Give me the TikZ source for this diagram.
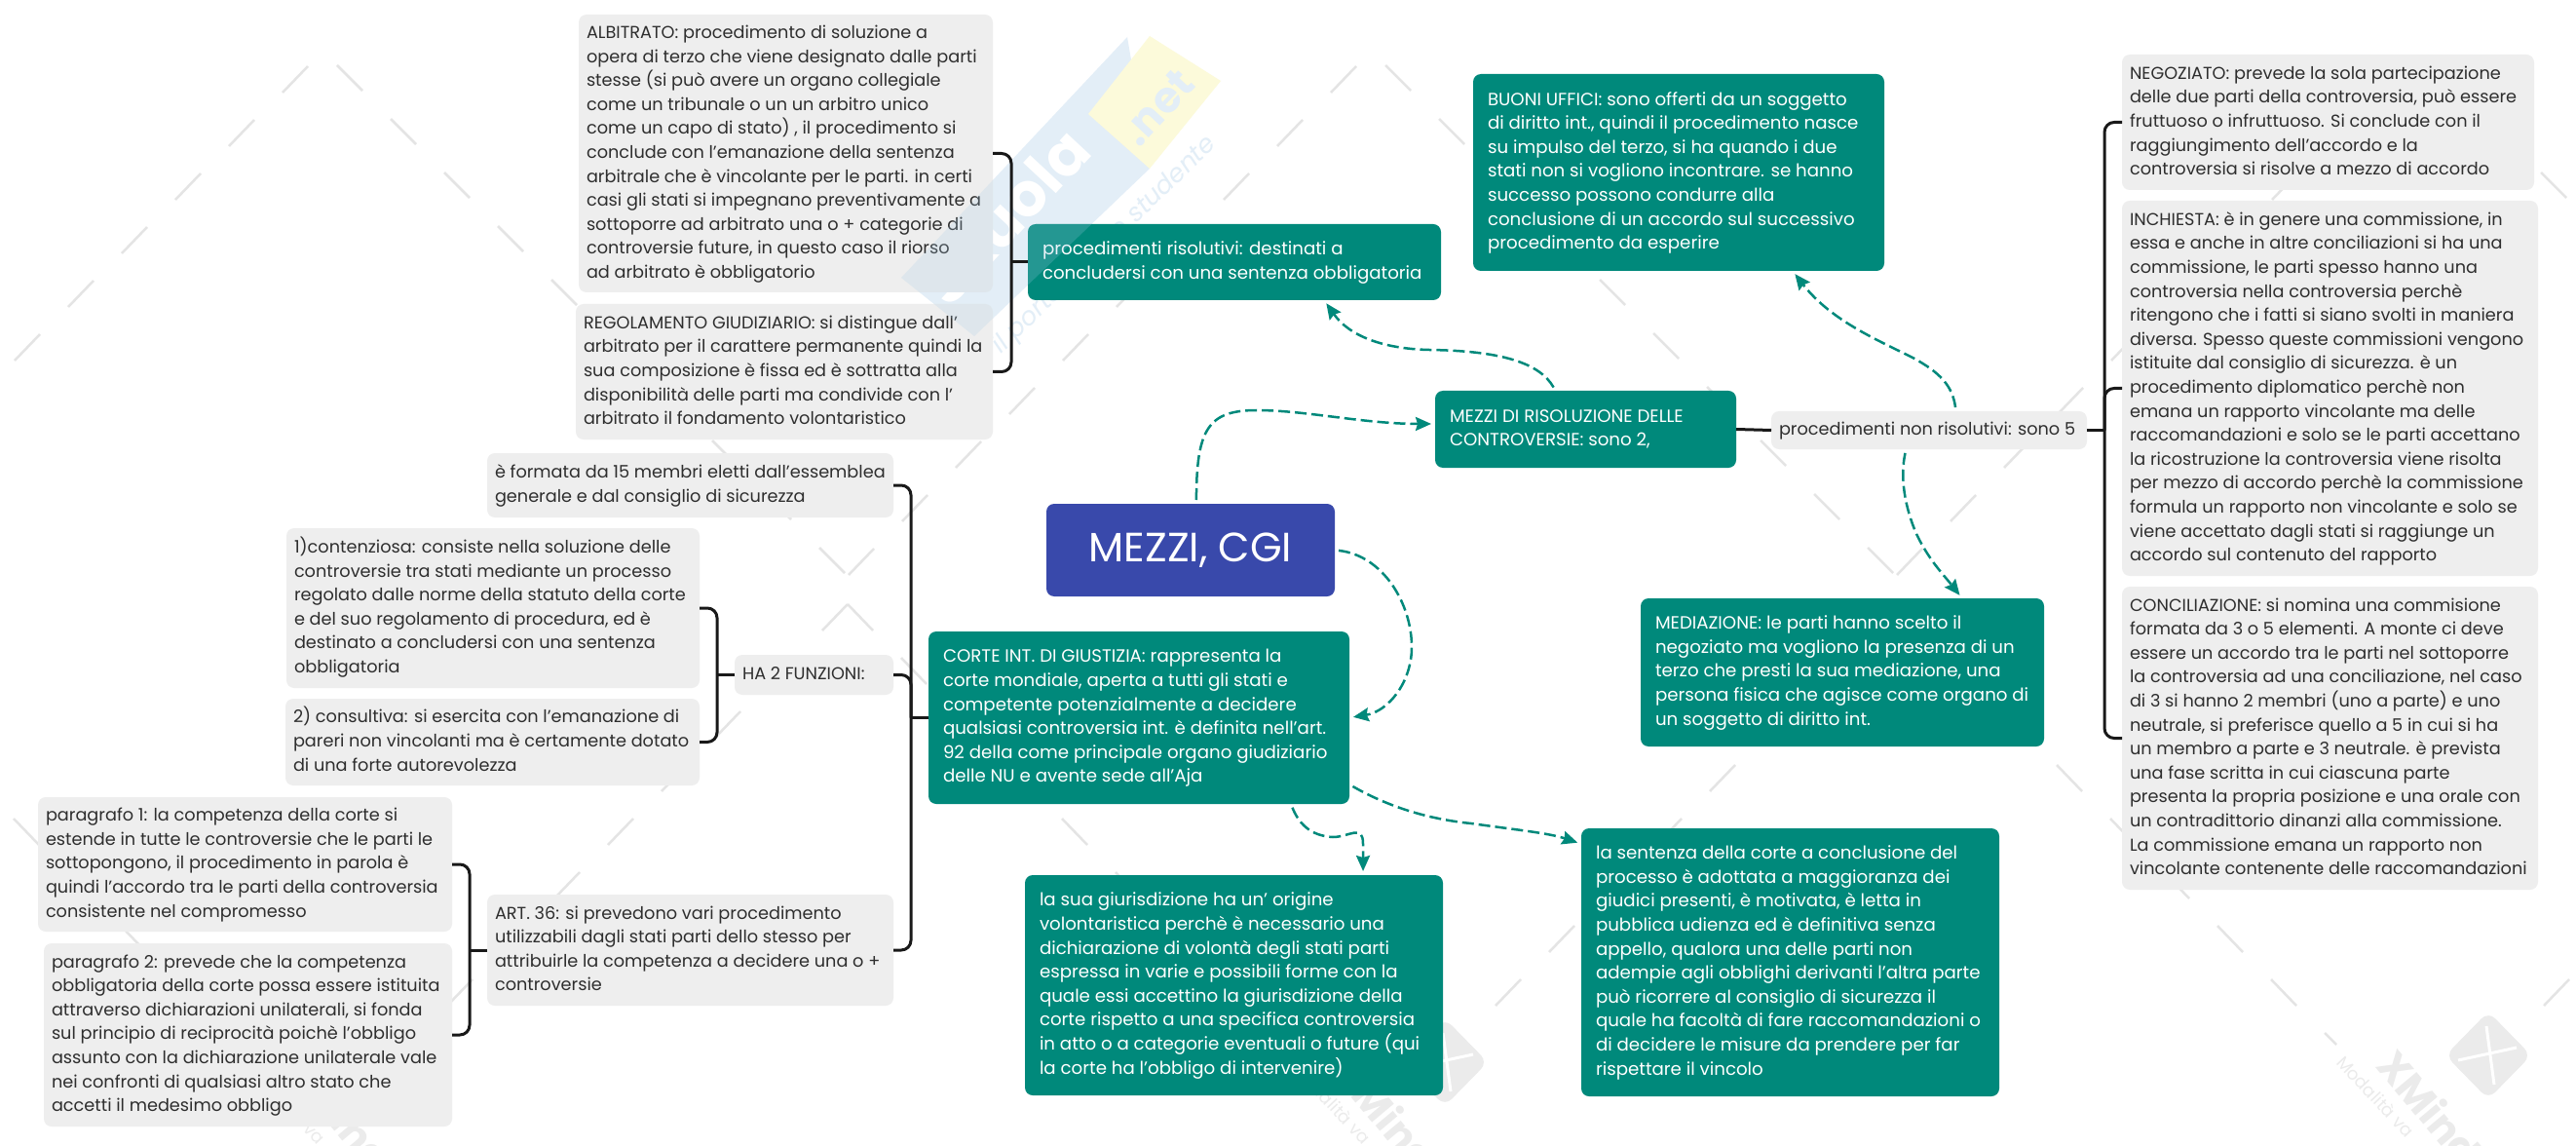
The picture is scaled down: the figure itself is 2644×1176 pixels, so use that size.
\documentclass[tikz,border=0pt]{standalone}
\usepackage{fontspec}
\setmainfont{Poppins}
\usetikzlibrary{calc,arrows.meta}
\definecolor{tealbox}{HTML}{00897B}
\definecolor{bluebox}{HTML}{3949AB}
\definecolor{graybox}{HTML}{EEEEEE}
\definecolor{inkdark}{HTML}{2E2E2E}
\definecolor{wmline}{HTML}{E4E4E4}
\definecolor{wmlogo}{HTML}{EBEBEB}
\definecolor{wmblue}{HTML}{E3EEF7}
\definecolor{wmyellow}{HTML}{FCFADA}
\definecolor{wmtint}{HTML}{A6CBE6}
\tikzset{
  boxbase/.style={rectangle,rounded corners=4pt,outer sep=0pt,inner ysep=0pt},
  graynode/.style={boxbase,fill=graybox,text=inkdark,inner xsep=4pt,font=\fontsize{8.85}{12.3}\selectfont},
  tealnode/.style={boxbase,fill=tealbox,text=white,inner xsep=7.5pt,font=\fontsize{9.1}{12.3}\selectfont},
  brack/.style={draw=black!90,line width=1.5pt,rounded corners=5pt},
  brackline/.style={draw=black!90,line width=1.5pt},
  conn/.style={draw=tealbox,line width=1.25pt,dash pattern=on 6pt off 2.5pt,-{Stealth[length=8pt,width=7pt,inset=1pt]},shorten >=2pt,shorten <=2pt},
  wmdash/.style={draw=wmline,line width=1.25pt},
}
% \bx{name}{x1}{y1}{x2}{y2}{style}{inset pt}{lines}
\newcommand{\bx}[8]{%
  \pgfmathsetmacro{\bxw}{(#4-#2)*.5}%
  \pgfmathsetmacro{\bxh}{(#5-#3)*.5}%
  \pgfmathsetmacro{\bxi}{\bxw-2*#7}%
  \node[#6,minimum width=\bxw pt,minimum height=\bxh pt] (#1) at ({(#2+#4)/2},{(#3+#5)/2})
    {\makebox[\bxi pt][l]{\begin{tabular}{@{}l@{}}#8\end{tabular}}};%
}
\begin{document}
\begin{tikzpicture}[x=0.5pt,y=-0.5pt]
\useasboundingbox (0,0) rectangle (2644,1176);
\fill[white] (0,0) rectangle (2644,1176);
% --- watermark: lattice of dashes
\foreach \cx in {870,1946,3022}{
  \foreach \k in {0,...,9}{\draw[wmdash] ({\cx-524+55*\k},{67+55*\k}) -- ++(26,26);}
  \foreach \k in {0,...,7}{\draw[wmdash] ({\cx-55*\k},{620+55*\k}) -- ++(-26,27);}
}
\foreach \cx in {-206,870,1946}{
  \foreach \k in {0,...,9}{\draw[wmdash] ({\cx+522-55*\k},{68+55*\k}) -- ++(-26,27);}
  \foreach \k in {0,...,7}{\draw[wmdash] ({\cx+55*\k},{620+55*\k}) -- ++(26,27);}
  \draw[wmdash] ({\cx+440},1060) -- ++(12,12);
}
% --- watermark: XMind marks
\foreach \lx/\ly in {410/1090,1483/1090,2554/1083}{
  \fill[wmlogo,rounded corners=5pt] (\lx-44,\ly) -- (\lx,\ly-45) -- (\lx+44,\ly) -- (\lx,\ly+45) -- cycle;
  \draw[white,line width=1.5pt] (\lx-2,\ly-30) -- (\lx+6,\ly+30);
  \draw[white,line width=1.5pt] (\lx-31,\ly+5) -- (\lx+29,\ly-8);
  \path (\lx-104,\ly) node[anchor=west,rotate=-50,text=wmlogo,font=\fontsize{21}{21}\selectfont\bfseries,inner sep=0pt] {XMind};
  \path (\lx-152,\ly+3) node[anchor=west,rotate=-47,text=wmlogo,font=\fontsize{9}{9}\selectfont,inner sep=0pt] {Modalità va};
}
% --- watermark: Skuola.net
\fill[wmblue] (925,285) -- (1157,38) -- (1180,173) -- (1000,345) -- cycle;
\fill[wmyellow] (1180,37) -- (1253,83) -- (1180,173) -- (1117,117) -- cycle;
\path (1032,222) node[rotate=47,text=white,font=\fontsize{31}{31}\selectfont\bfseries,inner sep=0pt] {Skuola};
\path (1188,110) node[rotate=47,text=wmblue,font=\fontsize{22}{22}\selectfont\bfseries,inner sep=0pt] {.net};
\path (1134,252) node[rotate=44,text=wmblue,font=\fontsize{13}{13}\selectfont\itshape,inner sep=0pt] {il portale dello studente};

% --- nodes
\bx{alb}{594}{15}{1019}{300}{graynode}{4}{ALBITRATO: procedimento di soluzione a\\opera di terzo che viene designato dalle parti\\stesse (si può avere un organo collegiale\\come un tribunale o un un arbitro unico\\come un capo di stato) , il procedimento si\\conclude con l'emanazione della sentenza\\arbitrale che è vincolante per le parti. in certi\\casi gli stati si impegnano preventivamente a\\sottoporre ad arbitrato una o + categorie di\\controversie future, in questo caso il riorso\\ad arbitrato è obbligatorio}
\bx{reg}{591}{312}{1019}{451}{graynode}{4}{REGOLAMENTO GIUDIZIARIO: si distingue dall'\\arbitrato per il carattere permanente quindi la\\sua composizione è fissa ed è sottratta alla\\disponibilità delle parti ma condivide con l'\\arbitrato il fondamento volontaristico}
\bx{risol}{1055}{230}{1479}{308}{tealnode}{7.5}{procedimenti risolutivi: destinati a\\concludersi con una sentenza obbligatoria}
\bx{buoni}{1512}{76}{1934}{278}{tealnode}{7.5}{BUONI UFFICI: sono offerti da un soggetto\\di diritto int., quindi il procedimento nasce\\su impulso del terzo, si ha quando i due\\stati non si vogliono incontrare. se hanno\\successo possono condurre alla\\conclusione di un accordo sul successivo\\procedimento da esperire}
\bx{neg}{2178}{56}{2601}{195}{graynode}{4}{NEGOZIATO: prevede la sola partecipazione\\delle due parti della controversia, può essere\\fruttuoso o infruttuoso. Si conclude con il\\raggiungimento dell'accordo e la\\controversia si risolve a mezzo di accordo}
\bx{inch}{2178}{206}{2605}{591}{graynode}{4}{INCHIESTA: è in genere una commissione, in\\essa e anche in altre conciliazioni si ha una\\commissione, le parti spesso hanno una\\controversia nella controversia perchè\\ritengono che i fatti si siano svolti in maniera\\diversa. Spesso queste commissioni vengono\\istituite dal consiglio di sicurezza. è un\\procedimento diplomatico perchè non\\emana un rapporto vincolante ma delle\\raccomandazioni e solo se le parti accettano\\la ricostruzione la controversia viene risolta\\per mezzo di accordo perchè la commissione\\formula un rapporto non vincolante e solo se\\viene accettato dagli stati si raggiunge un\\accordo sul contenuto del rapporto}
\bx{conc}{2178}{602}{2605}{913}{graynode}{4}{CONCILIAZIONE: si nomina una commisione\\formata da 3 o 5 elementi. A monte ci deve\\essere un accordo tra le parti nel sottoporre\\la controversia ad una conciliazione, nel caso\\di 3 si hanno 2 membri (uno a parte) e uno\\neutrale, si preferisce quello a 5 in cui si ha\\un membro a parte e 3 neutrale. è prevista\\una fase scritta in cui ciascuna parte\\presenta la propria posizione e una orale con\\un contradittorio dinanzi alla commissione.\\La commissione emana un rapporto non\\vincolante contenente delle raccomandazioni}
\bx{mezzid}{1473}{401}{1782}{480}{tealnode}{7.5}{MEZZI DI RISOLUZIONE DELLE\\CONTROVERSIE: sono 2,}
\bx{nonris}{1818}{422}{2142}{461}{graynode}{4}{procedimenti non risolutivi: sono 5}
\bx{media}{1684}{614}{2098}{766}{tealnode}{7.5}{MEDIAZIONE: le parti hanno scelto il\\negoziato ma vogliono la presenza di un\\terzo che presti la sua mediazione, una\\persona fisica che agisce come organo di\\un soggetto di diritto int.}
\node[rectangle,rounded corners=4pt,fill=bluebox,text=white,minimum width=148pt,minimum height=47.5pt,font=\fontsize{21}{24}\selectfont,outer sep=0pt] (cgi) at (1222,564.5) {MEZZI, CGI};
\bx{corte}{953}{648}{1385}{825}{tealnode}{7.5}{CORTE INT. DI GIUSTIZIA: rappresenta la\\corte mondiale, aperta a tutti gli stati e\\competente potenzialmente a decidere\\qualsiasi controversia int. è definita nell'art.\\92 della come principale organo giudiziario\\delle NU e avente sede all'Aja}
\bx{sua}{1052}{898}{1481}{1124}{tealnode}{7.5}{la sua giurisdizione ha un' origine\\volontaristica perchè è necessario una\\dichiarazione di volontà degli stati parti\\espressa in varie e possibili forme con la\\quale essi accettino la giurisdizione della\\corte rispetto a una specifica controversia\\in atto o a categorie eventuali o future (qui\\la corte ha l'obbligo di intervenire)}
\bx{sent}{1623}{850}{2052}{1125}{tealnode}{7.5}{la sentenza della corte a conclusione del\\processo è adottata a maggioranza dei\\giudici presenti, è motivata, è letta in\\pubblica udienza ed è definitiva senza\\appello, qualora una delle parti non\\adempie agli obblighi derivanti l'altra parte\\può ricorrere al consiglio di sicurezza il\\quale ha facoltà di fare raccomandazioni o\\di decidere le misure da prendere per far\\rispettare il vincolo}
\bx{form}{500}{465}{917}{531}{graynode}{4}{è formata da 15 membri eletti dall'essemblea\\generale e dal consiglio di sicurezza}
\bx{cont}{294}{542}{718}{706}{graynode}{4}{1)contenziosa: consiste nella soluzione delle\\controversie tra stati mediante un processo\\regolato dalle norme della statuto della corte\\e del suo regolamento di procedura, ed è\\destinato a concludersi con una sentenza\\obbligatoria}
\bx{cons}{293}{717}{718}{806}{graynode}{4}{2) consultiva: si esercita con l'emanazione di\\pareri non vincolanti ma è certamente dotato\\di una forte autorevolezza}
\bx{hadue}{754}{672}{917}{713}{graynode}{4}{HA 2 FUNZIONI:}
\bx{parone}{39}{818}{464}{956}{graynode}{4}{paragrafo 1: la competenza della corte si\\estende in tutte le controversie che le parti le\\sottopongono, il procedimento in parola è\\quindi l'accordo tra le parti della controversia\\consistente nel compromesso}
\bx{partwo}{45}{968}{464}{1156}{graynode}{4}{paragrafo 2: prevede che la competenza\\obbligatoria della corte possa essere istituita\\attraverso dichiarazioni unilaterali, si fonda\\sul principio di reciprocità poichè l'obbligo\\assunto con la dichiarazione unilaterale vale\\nei confronti di qualsiasi altro stato che\\accetti il medesimo obbligo}
\bx{art}{500}{918}{917}{1032}{graynode}{4}{ART. 36: si prevedono vari procedimento\\utilizzabili dagli stati parti dello stesso per\\attribuirle la competenza a decidere una o +\\controversie}

% --- faint tint of the stamp across the boxes it crosses
\begin{scope}
\clip[rounded corners=4pt] (alb.north west) rectangle (alb.south east) (reg.north west) rectangle (reg.south east) (risol.north west) rectangle (risol.south east);
\fill[wmtint,fill opacity=.22] (925,285) -- (1157,38) -- (1180,173) -- (1000,345) -- cycle;
\end{scope}

% --- solid brackets
\coordinate (j1) at (1038,269);
\draw[brack] (alb.east) -| (j1) |- (reg.east);
\draw[brackline] (risol.west) -- (j1);
\draw[brackline] (mezzid.east) -- (nonris.west);
\coordinate (j2) at (2160,441.5);
\draw[brack] (neg.west) -| (j2) |- (conc.west);
\draw[brack] (inch.west) -| (j2);
\draw[brackline] (nonris.east) -- (j2);
\coordinate (j3) at (935,736.5);
\draw[brack] (form.east) -| (j3) |- (art.east);
\draw[brack] (hadue.east) -| (j3);
\draw[brackline] (corte.west) -- (j3);
\coordinate (j4) at (736,692.5);
\draw[brack] (cont.east) -| (j4) |- (cons.east);
\draw[brackline] (hadue.west) -- (j4);
\coordinate (j5) at (482,975);
\draw[brack] (parone.east) -| (j5) |- (partwo.east);
\draw[brackline] (art.west) -- (j5);

% --- dashed connectors
\draw[conn] ($(cgi.north west)!.52!(cgi.north east)$) .. controls (1228,440) and (1240,421) .. (1290,421) .. controls (1340,421) and (1400,435) .. ($(mezzid.north west)!.43!(mezzid.south west)$);
\draw[conn] ($(mezzid.north west)!.40!(mezzid.north east)$) .. controls (1580,372) and (1540,360) .. (1467,359) .. controls (1420,358) and (1385,345) .. ($(risol.south west)!.717!(risol.south east)$);
\draw[conn] (cgi.east) .. controls (1420,570) and (1449,620) .. (1449,664) .. controls (1449,700) and (1425,730) .. (corte.east);
\draw[conn] ($(corte.south west)!.861!(corte.south east)$) .. controls (1335,850) and (1350,858) .. (1368,859) .. controls (1385,859) and (1399,845) .. (1399,866) -- ($(sua.north west)!.809!(sua.north east)$);
\draw[conn] ($(corte.north east)!.887!(corte.south east)$) .. controls (1420,825) and (1460,840) .. (1510,845) .. controls (1560,852) and (1590,855) .. ($(sent.north west)!.058!(sent.south west)$);
\draw[conn] ($(nonris.north west)!.585!(nonris.north east)$) .. controls (2004,395) and (1990,382) .. (1965,368) .. controls (1930,350) and (1880,330) .. ($(buoni.south west)!.777!(buoni.south east)$);
\draw[conn] ($(nonris.south west)!.427!(nonris.south east)$) .. controls (1950,490) and (1955,520) .. (1967,548) .. controls (1980,575) and (1995,590) .. ($(media.north west)!.797!(media.north east)$);
\end{tikzpicture}
\end{document}
